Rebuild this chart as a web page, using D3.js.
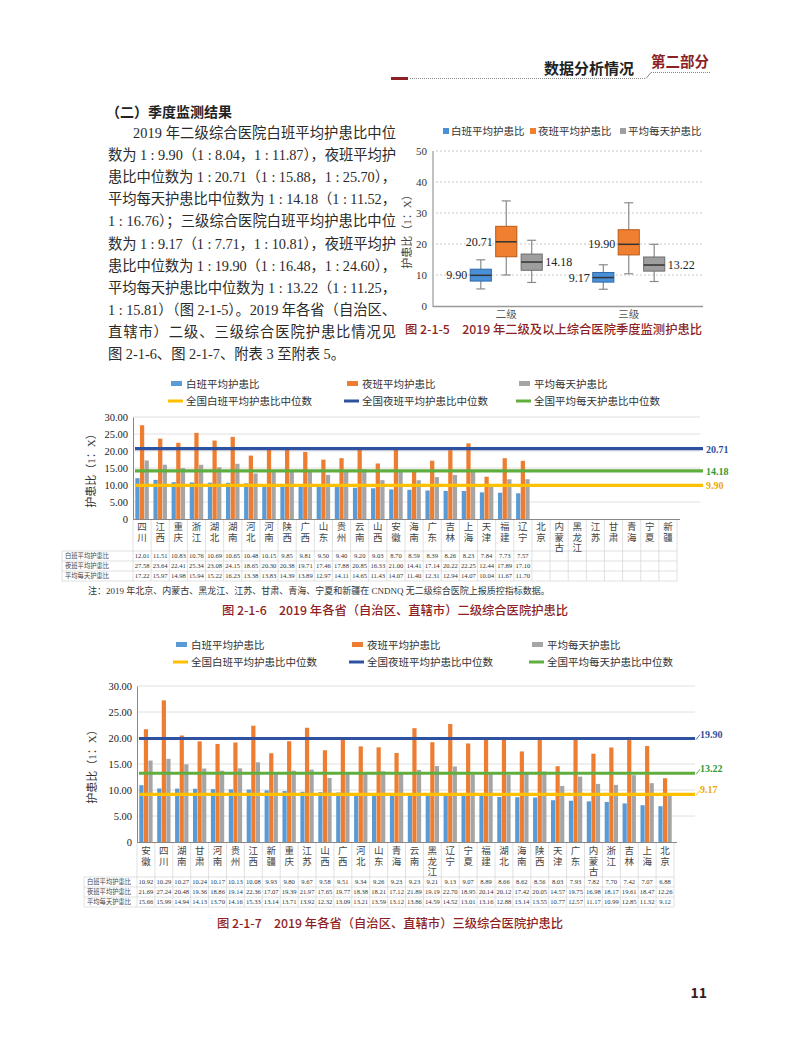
<!DOCTYPE html>
<html>
<head>
<meta charset="utf-8">
<script src="https://cdn.jsdelivr.net/npm/d3@7"></script>
<style>
body { margin: 0; background: #fff; }
</style>
</head>
<body>
<script>
// box plot data (图 2-1-5)
var boxCats = ["二级", "三级"];
var boxSeries = ["白班平均护患比", "夜班平均护患比", "平均每天护患比"];
var boxLow = [[5.5, 10.0, 7.6], [5.4, 10.4, 7.9]];
var boxQ1 = [[8.04, 15.88, 11.52], [7.71, 16.48, 11.25]];
var boxMedian = [[9.90, 20.71, 14.18], [9.17, 19.90, 13.22]];
var boxQ3 = [[11.87, 25.70, 16.76], [10.81, 24.60, 15.81]];
var boxHigh = [[14.9, 33.9, 21.2], [13.3, 33.3, 19.9]];
var boxTicks = [0, 10, 20, 30, 40, 50];

// 图 2-1-6 二级
var prov2 = ["四川","江西","重庆","浙江","湖北","湖南","河北","河南","陕西","广西","山东","贵州","云南","山西","安徽","海南","广东","吉林","上海","天津","福建","辽宁","北京","内蒙古","黑龙江","江苏","甘肃","青海","宁夏","新疆"];
var day2 = [12.01,11.51,10.83,10.76,10.69,10.65,10.48,10.15,9.85,9.81,9.50,9.40,9.20,9.03,8.70,8.59,8.39,8.26,8.23,7.84,7.73,7.57];
var night2 = [27.58,23.64,22.41,25.34,23.08,24.15,18.65,20.30,20.38,19.71,17.46,17.88,20.85,16.33,21.00,14.41,17.14,20.22,22.25,12.44,17.89,17.10];
var avg2 = [17.22,15.97,14.98,15.94,15.22,16.23,13.38,13.83,14.39,13.89,12.97,14.11,14.65,11.43,14.07,11.40,12.31,12.94,14.07,10.04,11.67,11.70];
var median2 = [9.90, 20.71, 14.18];

// 图 2-1-7 三级
var prov3 = ["安徽","四川","湖南","甘肃","河南","贵州","江西","新疆","重庆","江苏","山西","广西","河北","山东","青海","云南","黑龙江","辽宁","宁夏","福建","湖北","海南","陕西","天津","广东","内蒙古","浙江","吉林","上海","北京"];
var day3 = [10.92,10.29,10.27,10.24,10.17,10.13,10.08,9.93,9.80,9.67,9.58,9.51,9.34,9.26,9.23,9.23,9.21,9.13,9.07,8.89,8.66,8.62,8.56,8.03,7.93,7.82,7.70,7.42,7.07,6.88];
var night3 = [21.69,27.24,20.48,19.36,18.86,19.14,22.36,17.07,19.39,21.97,17.65,19.77,18.38,18.21,17.12,21.89,19.19,22.70,18.95,20.14,20.12,17.42,20.05,14.57,19.75,16.98,18.17,19.61,18.47,12.26];
var avg3 = [15.66,15.99,14.94,14.13,13.70,14.16,15.33,13.14,13.71,13.92,12.32,13.09,13.21,13.59,13.12,13.86,14.59,14.52,13.01,13.16,12.88,13.14,13.55,10.77,12.57,11.17,10.99,12.85,11.32,9.12];
var median3 = [9.17, 19.90, 13.22];

var barTicks = [0, 5, 10, 15, 20, 25, 30];
var barSeries = ["白班平均护患比", "夜班平均护患比", "平均每天护患比"];
var medianNames = ["全国白班平均护患比中位数", "全国夜班平均护患比中位数", "全国平均每天护患比中位数"];

var barColors = ["#5b9bd5", "#ed7d31", "#a5a5a5"];
var lineColors = ["#ffc000", "#2f52a0", "#5fae3e"];
var labelColors = ["#f0a800", "#2f52a0", "#2f9a3a"];
var red = "#8e1f25";
var serif = "'Liberation Serif','Noto Sans CJK SC',serif";
var cjk = "'Noto Sans CJK SC',sans-serif";

var svg = d3.select("body").append("svg")
    .attr("width", 790)
    .attr("height", 1064);

// header
svg.append("rect").attr("x", 391).attr("y", 77).attr("width", 17).attr("height", 3).attr("fill", red);
svg.append("line").attr("x1", 410).attr("x2", 646).attr("y1", 78.5).attr("y2", 78.5)
    .attr("stroke", "#888").attr("stroke-width", 1).attr("stroke-dasharray", "1,1");
svg.append("line").attr("x1", 646).attr("x2", 651).attr("y1", 78.5).attr("y2", 72.5)
    .attr("stroke", "#888").attr("stroke-width", 1);
svg.append("line").attr("x1", 651).attr("x2", 711).attr("y1", 72.5).attr("y2", 72.5)
    .attr("stroke", "#888").attr("stroke-width", 1).attr("stroke-dasharray", "1,1");
svg.append("text").attr("x", 634).attr("y", 74).attr("text-anchor", "end")
    .style("font-family", cjk).style("font-size", "15px").style("font-weight", "bold")
    .attr("fill", "#222").text("数据分析情况");
svg.append("text").attr("x", 651).attr("y", 67)
    .style("font-family", cjk).style("font-size", "14.5px").style("font-weight", "bold")
    .attr("fill", red).text("第二部分");

// body text
svg.append("text").attr("x", 106).attr("y", 117)
    .style("font-family", serif).style("font-size", "14px").style("font-weight", "bold")
    .attr("fill", "#222").text("（二）季度监测结果");

var bodyLines = [
  "2019 年二级综合医院白班平均护患比中位",
  "数为 1 : 9.90（1 : 8.04，1 : 11.87），夜班平均护",
  "患比中位数为 1 : 20.71（1 : 15.88，1 : 25.70），",
  "平均每天护患比中位数为 1 : 14.18（1 : 11.52，",
  "1 : 16.76）；三级综合医院白班平均护患比中位",
  "数为 1 : 9.17（1 : 7.71，1 : 10.81），夜班平均护",
  "患比中位数为 1 : 19.90（1 : 16.48，1 : 24.60），",
  "平均每天护患比中位数为 1 : 13.22（1 : 11.25，",
  "1 : 15.81）（图 2-1-5）。2019 年各省（自治区、",
  "直辖市）二级、三级综合医院护患比情况见",
  "图 2-1-6、图 2-1-7、附表 3 至附表 5。"
];
bodyLines.forEach(function(line, i) {
  var x0 = i == 0 ? 133 : 108;
  var t = svg.append("text").attr("x", x0).attr("y", 138 + i * 22.1)
      .style("font-family", serif).style("font-size", "14.3px")
      .attr("fill", "#2a2a2a").text(line);
  if (i < bodyLines.length - 1) {
    t.attr("textLength", 396 - x0).attr("lengthAdjust", "spacing");
  }
});

// ---------- box plot ----------
var by = d3.scaleLinear().domain([0, 50]).range([306, 151]);
var bx = d3.scaleBand().domain(boxCats).range([445, 690]);
var bs = d3.scaleBand().domain(d3.range(3)).range([-36, 36]).paddingInner(0.17);
var boxFill = ["#4a90d9", "#f08030", "#9e9e9e"];
var boxStroke = ["#2e6aa8", "#b85a18", "#6e6e6e"];

var bg = svg.append("g");
bg.selectAll(".bgrid").data(boxTicks.slice(1)).enter().append("line")
    .attr("x1", 436).attr("x2", 702)
    .attr("y1", function(d) { return by(d); }).attr("y2", function(d) { return by(d); })
    .attr("stroke", "#c8c8c8").attr("stroke-dasharray", "2,2");
bg.append("line").attr("x1", 433).attr("x2", 433).attr("y1", 151).attr("y2", 307)
    .attr("stroke", "#999").attr("stroke-width", 1.2);
bg.append("line").attr("x1", 433).attr("x2", 703).attr("y1", 306.5).attr("y2", 306.5)
    .attr("stroke", "#999").attr("stroke-width", 1.5);
bg.selectAll(".btick").data(boxTicks).enter().append("text")
    .attr("x", 427).attr("y", function(d) { return by(d) + 4; })
    .attr("text-anchor", "end")
    .style("font-family", serif).style("font-size", "11px").attr("fill", "#333")
    .text(function(d) { return d; });
bg.selectAll(".bcat").data(boxCats).enter().append("text")
    .attr("x", function(d) { return bx(d) + bx.bandwidth() / 2; }).attr("y", 318)
    .attr("text-anchor", "middle")
    .style("font-family", cjk).style("font-size", "10.5px").attr("fill", "#555")
    .text(function(d) { return d; });
bg.append("text").attr("transform", "translate(411,229) rotate(-90)")
    .attr("text-anchor", "middle")
    .style("font-family", serif).style("font-size", "11px").attr("fill", "#444")
    .text("护患比（1：X）");

boxCats.forEach(function(cat, ci) {
  var cx = bx(cat) + bx.bandwidth() / 2;
  d3.range(3).forEach(function(si) {
    var left = cx + bs(si);
    var w = bs.bandwidth();
    var mid = left + w / 2;
    var g = bg.append("g");
    g.append("line").attr("x1", mid).attr("x2", mid)
        .attr("y1", by(boxHigh[ci][si])).attr("y2", by(boxLow[ci][si]))
        .attr("stroke", "#8a8a8a").attr("stroke-width", 1.2);
    [boxHigh[ci][si], boxLow[ci][si]].forEach(function(v) {
      g.append("line").attr("x1", mid - 4.5).attr("x2", mid + 4.5)
          .attr("y1", by(v)).attr("y2", by(v))
          .attr("stroke", "#8a8a8a").attr("stroke-width", 1.2);
    });
    g.append("rect").attr("x", left).attr("width", w)
        .attr("y", by(boxQ3[ci][si])).attr("height", by(boxQ1[ci][si]) - by(boxQ3[ci][si]))
        .attr("fill", boxFill[si]).attr("stroke", boxStroke[si]).attr("stroke-width", 1);
    g.append("line").attr("x1", left).attr("x2", left + w)
        .attr("y1", by(boxMedian[ci][si])).attr("y2", by(boxMedian[ci][si]))
        .attr("stroke", "#333").attr("stroke-width", 1.5);
    if (si < 2) {
      g.append("text").attr("x", left - 3).attr("y", by(boxMedian[ci][si]) + 4)
          .attr("text-anchor", "end")
          .style("font-family", serif).style("font-size", "12px").attr("fill", "#222")
          .text(boxMedian[ci][si].toFixed(2));
    } else {
      g.append("text").attr("x", left + w + 3).attr("y", by(boxMedian[ci][si]) + 4)
          .style("font-family", serif).style("font-size", "12px").attr("fill", "#222")
          .text(boxMedian[ci][si].toFixed(2));
    }
  });
});

var boxLegX = [443, 530, 620];
boxSeries.forEach(function(s, i) {
  bg.append("rect").attr("x", boxLegX[i]).attr("y", 128).attr("width", 6).attr("height", 6)
      .attr("fill", boxFill[i]);
  bg.append("text").attr("x", boxLegX[i] + 8).attr("y", 135)
      .style("font-family", serif).style("font-size", "10.5px").attr("fill", "#333").text(s);
});
svg.append("text").attr("x", 405).attr("y", 334)
    .style("font-family", cjk).style("font-size", "12.3px").style("font-weight", "500")
    .attr("fill", red).text("图 2-1-5　2019 年二级及以上综合医院季度监测护患比");

// ---------- bar charts ----------
var drawBars = function(cfg) {
  var g = svg.append("g");
  var x = d3.scaleBand().domain(cfg.prov).range([cfg.x0, cfg.x1]);
  var y = d3.scaleLinear().domain([0, 30]).range([cfg.yBottom, cfg.yTop]);
  var xs = d3.scaleBand().domain(d3.range(3)).range([0, x.bandwidth()])
      .paddingInner(0.08).paddingOuter(0.5);
  var series = [cfg.day, cfg.night, cfg.avg];

  // legend
  barSeries.forEach(function(s, i) {
    g.append("rect").attr("x", cfg.legX[i]).attr("y", cfg.legY[0] - 3)
        .attr("width", 11).attr("height", 5).attr("fill", barColors[i]);
    g.append("text").attr("x", cfg.legX[i] + 15).attr("y", cfg.legY[0] + 4)
        .style("font-family", serif).style("font-size", "10.5px").attr("fill", "#333").text(s);
  });
  medianNames.forEach(function(s, i) {
    g.append("line").attr("x1", cfg.legX[i] - 3).attr("x2", cfg.legX[i] + 12)
        .attr("y1", cfg.legY[1]).attr("y2", cfg.legY[1])
        .attr("stroke", lineColors[i]).attr("stroke-width", 3);
    g.append("text").attr("x", cfg.legX[i] + 15).attr("y", cfg.legY[1] + 4)
        .style("font-family", serif).style("font-size", "10.5px").attr("fill", "#333").text(s);
  });

  // grid
  g.selectAll(".grid").data(barTicks.slice(1)).enter().append("line")
      .attr("x1", cfg.x0).attr("x2", cfg.gridEnd)
      .attr("y1", function(d) { return y(d); }).attr("y2", function(d) { return y(d); })
      .attr("stroke", "#e0e0e0");

  // y axis
  var yAxis = d3.axisLeft(y).tickValues(barTicks).tickSize(0).tickPadding(5)
      .tickFormat(function(d) { return d == 0 ? "0" : d.toFixed(2); });
  var ya = g.append("g").attr("transform", "translate(" + cfg.x0 + ",0)").call(yAxis);
  ya.select(".domain").attr("stroke", "#888");
  ya.selectAll("text").style("font-family", serif).style("font-size", "10.5px").attr("fill", "#222");
  g.append("text").attr("transform", "translate(" + cfg.titleX + "," + cfg.titleY + ") rotate(-90)")
      .attr("text-anchor", "middle")
      .style("font-family", serif).style("font-size", "11px").attr("fill", "#333")
      .text("护患比（1：X）");

  // bars
  series.forEach(function(vals, si) {
    g.selectAll(".bar" + si).data(vals).enter().append("rect")
        .attr("x", function(d, i) { return x(cfg.prov[i]) + xs(si); })
        .attr("width", xs.bandwidth())
        .attr("y", function(d) { return y(d); })
        .attr("height", function(d) { return y(0) - y(d); })
        .attr("fill", barColors[si]);
  });

  // baseline
  g.append("line").attr("x1", cfg.x0).attr("x2", cfg.x1 + 3)
      .attr("y1", cfg.yBottom + 0.5).attr("y2", cfg.yBottom + 0.5).attr("stroke", "#888");

  // national median lines
  cfg.median.forEach(function(m, i) {
    g.append("line").attr("x1", cfg.x0 + 2).attr("x2", cfg.lineEnd)
        .attr("y1", y(m)).attr("y2", y(m))
        .attr("stroke", lineColors[i]).attr("stroke-width", 3.2);
    if (cfg.leader) {
      g.append("line").attr("x1", cfg.lineEnd + 1).attr("x2", cfg.lineEnd + 5)
          .attr("y1", y(m) + 1).attr("y2", y(m) - 4)
          .attr("stroke", labelColors[i]).attr("stroke-width", 0.8);
      g.append("text").attr("x", cfg.lineEnd + 5).attr("y", y(m) - 1)
          .style("font-family", serif).style("font-size", "10px").style("font-weight", "bold")
          .attr("fill", labelColors[i]).text(m.toFixed(2));
    } else {
      g.append("text").attr("x", cfg.lineEnd + 3).attr("y", y(m) + 4)
          .style("font-family", serif).style("font-size", "10px").style("font-weight", "bold")
          .attr("fill", labelColors[i]).text(m.toFixed(2));
    }
  });

  // data table
  var rowTop = cfg.yBottom + cfg.catH;
  var rowH = 10;
  var tBottom = rowTop + rowH * 3;
  var step = x.step();
  d3.range(31).forEach(function(i) {
    g.append("line").attr("x1", cfg.x0 + i * step).attr("x2", cfg.x0 + i * step)
        .attr("y1", cfg.yBottom + 1).attr("y2", tBottom).attr("stroke", "#d4d4d4").attr("stroke-width", 0.7);
  });
  g.append("line").attr("x1", cfg.tableLeft).attr("x2", cfg.tableLeft)
      .attr("y1", rowTop).attr("y2", tBottom).attr("stroke", "#d4d4d4").attr("stroke-width", 0.7);
  d3.range(4).forEach(function(r) {
    g.append("line").attr("x1", cfg.tableLeft).attr("x2", cfg.x1)
        .attr("y1", rowTop + r * rowH).attr("y2", rowTop + r * rowH)
        .attr("stroke", "#d4d4d4").attr("stroke-width", 0.7);
  });
  // province names, written top to bottom
  g.selectAll(".prov").data(cfg.prov).enter().append("text")
      .attr("x", function(d) { return x(d) + x.bandwidth() / 2; })
      .attr("y", cfg.yBottom + cfg.charTop)
      .style("writing-mode", "vertical-rl")
      .style("text-orientation", "upright")
      .style("letter-spacing", "1px")
      .style("font-family", cjk).style("font-size", "9.5px").attr("fill", "#444")
      .text(function(d) { return d; });
  series.forEach(function(vals, r) {
    g.append("text").attr("x", cfg.tableLeft + 3).attr("y", rowTop + r * rowH + 7.3)
        .style("font-family", cjk).style("font-size", "6.3px").attr("fill", "#444").text(barSeries[r]);
    vals.forEach(function(v, i) {
      g.append("text").attr("x", x(cfg.prov[i]) + x.bandwidth() / 2).attr("y", rowTop + r * rowH + 7.3)
          .attr("text-anchor", "middle")
          .style("font-family", serif).style("font-size", "6.6px").attr("fill", "#333").text(v.toFixed(2));
    });
  });
};

drawBars({
  prov: prov2, day: day2, night: night2, avg: avg2, median: median2,
  x0: 133, x1: 677, yTop: 417, yBottom: 519, gridEnd: 700, lineEnd: 703,
  legX: [171, 347, 519], legY: [384, 401],
  titleX: 95, titleY: 468, catH: 32, charTop: 3, tableLeft: 62, leader: false
});
svg.append("text").attr("x", 88).attr("y", 594)
    .style("font-family", serif).style("font-size", "9px").attr("fill", "#333")
    .text("注：2019 年北京、内蒙古、黑龙江、江苏、甘肃、青海、宁夏和新疆在 CNDNQ 无二级综合医院上报质控指标数据。");
svg.append("text").attr("x", 395).attr("y", 615).attr("text-anchor", "middle")
    .style("font-family", cjk).style("font-size", "12.3px").style("font-weight", "500")
    .attr("fill", red).text("图 2-1-6　2019 年各省（自治区、直辖市）二级综合医院护患比");

drawBars({
  prov: prov3, day: day3, night: night3, avg: avg3, median: median3,
  x0: 137, x1: 674, yTop: 686, yBottom: 842, gridEnd: 695, lineEnd: 695,
  legX: [176, 352, 532], legY: [645, 662],
  titleX: 96, titleY: 764, catH: 35, charTop: 4, tableLeft: 84, leader: true
});
svg.append("text").attr("x", 390).attr("y", 928).attr("text-anchor", "middle")
    .style("font-family", cjk).style("font-size", "12.3px").style("font-weight", "500")
    .attr("fill", red).text("图 2-1-7　2019 年各省（自治区、直辖市）三级综合医院护患比");

svg.append("text").attr("x", 707).attr("y", 998).attr("text-anchor", "end")
    .style("font-family", cjk).style("font-size", "14px").style("font-weight", "bold")
    .attr("fill", "#3a1c1c").text("11");
</script>
</body>
</html>
